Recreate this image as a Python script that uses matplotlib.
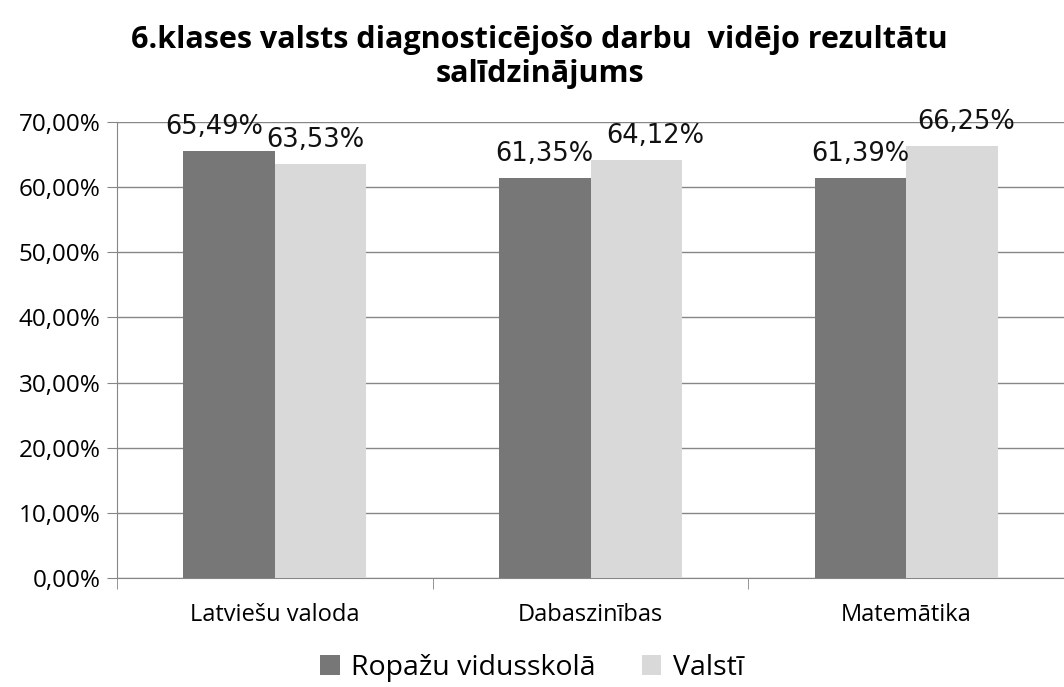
import matplotlib
matplotlib.use('Agg')
from matplotlib import pyplot as plt
from matplotlib.ticker import FuncFormatter, FixedLocator
import numpy as np

categories = ['Latviešu valoda', 'Dabaszinības', 'Matemātika']
ropazi = [65.49, 61.35, 61.39]
valsti = [63.53, 64.12, 66.25]
series_names = ['Ropažu vidusskolā', 'Valstī']
title = '6.klases valsts diagnosticējošo darbu  vidējo rezultātu\nsalīdzinājums'

fig = plt.figure(figsize=(10.64, 6.87), dpi=100)
ax = fig.add_axes([0.11, 0.1587, 0.89, 0.6637])

x = np.arange(len(categories))
w = 0.29
c_dark = '#777777'
c_light = '#d9d9d9'
b1 = ax.bar(x - w / 2, ropazi, w, color=c_dark, label=series_names[0], zorder=3)
b2 = ax.bar(x + w / 2, valsti, w, color=c_light, label=series_names[1], zorder=3)

# label nudges (points), as placed in the original
dx1 = [-11, 0, 0]
dx2 = [-4, 14, 10]
for bars, vals, dxs in ((b1, ropazi, dx1), (b2, valsti, dx2)):
    for b, v, d in zip(bars, vals, dxs):
        ax.annotate(f'{v:.2f}%'.replace('.', ','),
                    (b.get_x() + b.get_width() / 2, v),
                    xytext=(d, 8), textcoords='offset points',
                    ha='center', va='bottom', fontsize=18.5,
                    family='DejaVu Sans', color='#111111', zorder=4)

ax.set_xlim(-0.5, len(categories) - 0.5)
ax.set_ylim(0, 70)
ax.set_yticks(np.arange(0, 71, 10))
ax.yaxis.set_major_formatter(FuncFormatter(lambda v, p: f'{v:.2f}%'.replace('.', ',')))
ax.grid(axis='y', color='#868686', linewidth=1, zorder=0)

ax.set_xticks(x)
ax.set_xticklabels(categories, family='Open Sans', fontsize=17)
ax.xaxis.set_minor_locator(FixedLocator(np.arange(-0.5, len(categories), 1)))
ax.tick_params(axis='x', which='major', length=0, pad=18)
ax.tick_params(axis='x', which='minor', length=8, color='#868686', direction='out')
ax.tick_params(axis='y', length=7, color='#868686', pad=5)
for lab in ax.get_yticklabels():
    lab.set_family('Open Sans')
    lab.set_fontsize(17.5)

for s in ('top', 'right'):
    ax.spines[s].set_visible(False)
ax.spines['left'].set_color('#868686')
ax.spines['bottom'].set_color('#868686')

fig.suptitle(title, family='Open Sans', fontweight='bold', fontsize=22,
             x=0.507, y=0.963, linespacing=1.15)

fig.legend(loc='lower center', bbox_to_anchor=(0.5, -0.03), ncol=2, frameon=False,
           prop={'family': 'Open Sans', 'size': 20.5}, handlelength=0.7,
           handleheight=0.7, handletextpad=0.4, columnspacing=1.6)

fig.savefig('out.png', dpi=100)
